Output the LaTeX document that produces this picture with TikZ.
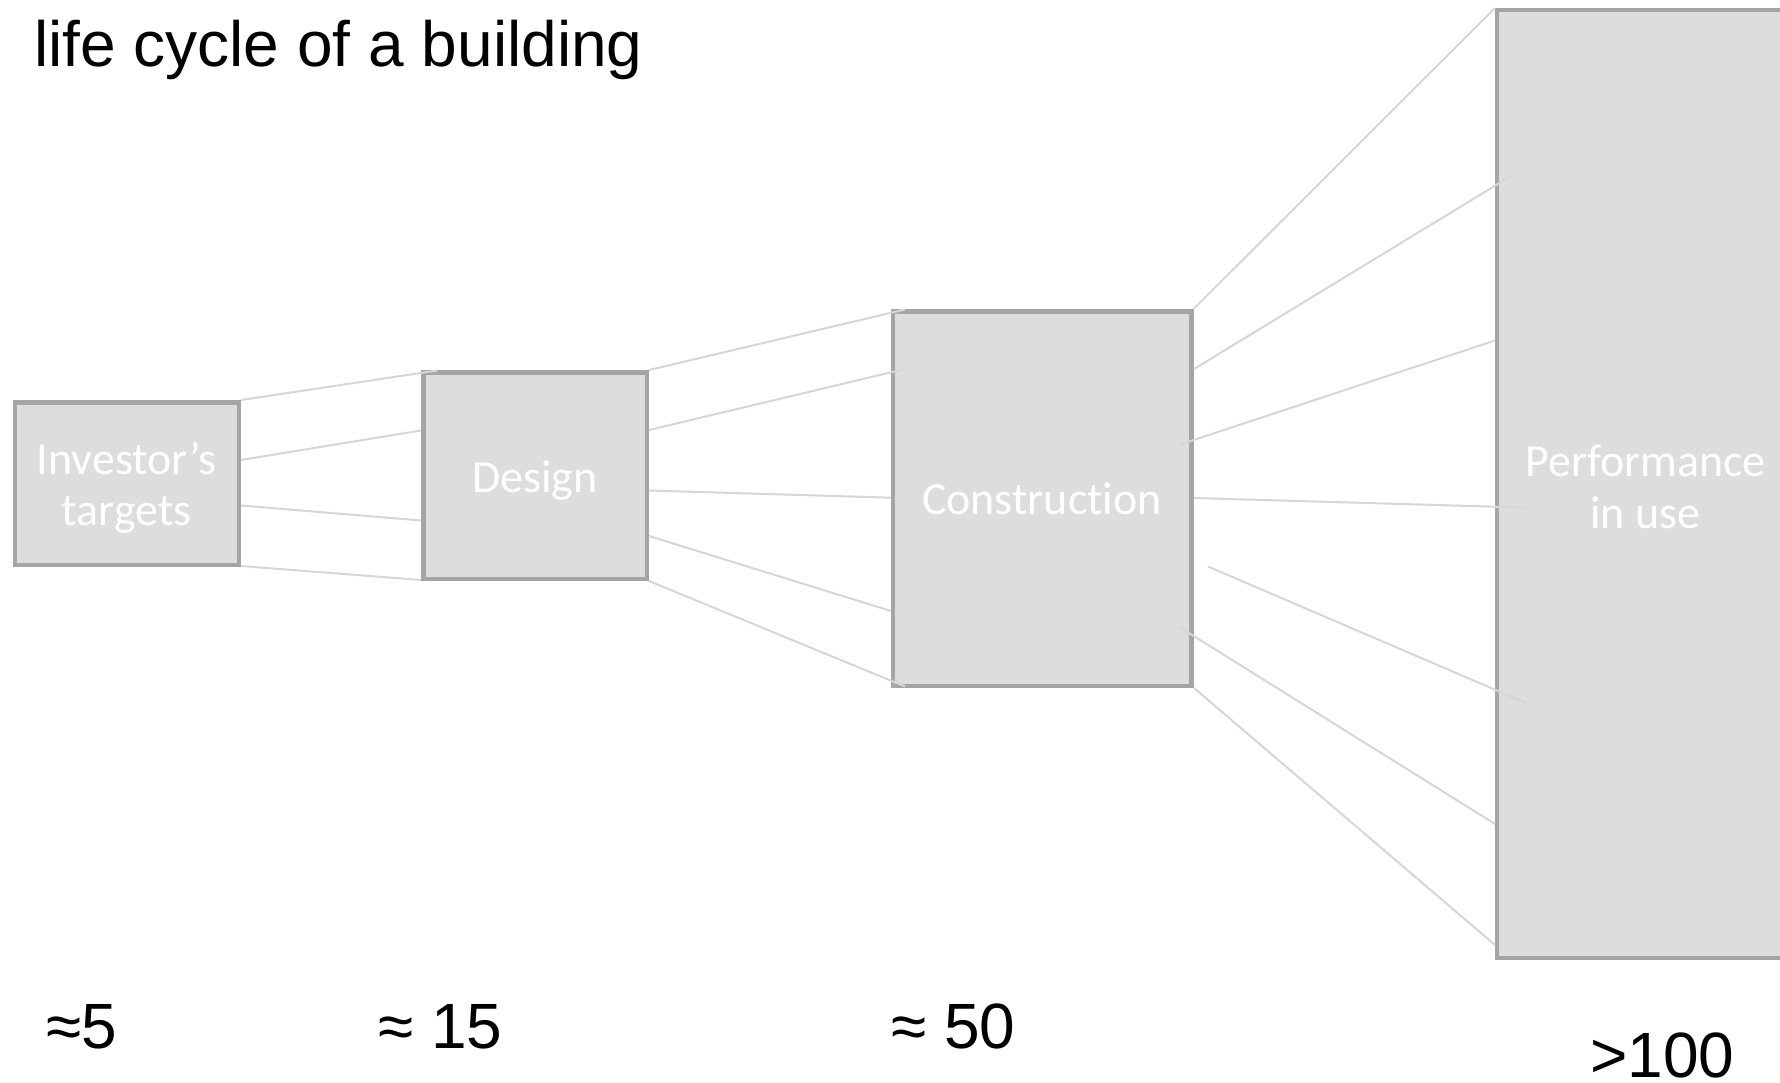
\documentclass[tikz,border=0pt]{standalone}
\usepackage{fontspec}
\setmainfont{Liberation Sans}
\newfontfamily\boxfont[Ligatures=NoCommon]{Carlito}
\definecolor{boxfill}{HTML}{DDDDDD}
\definecolor{boxline}{HTML}{A5A5A5}
\definecolor{conn}{HTML}{D6D6D6}
\tikzset{
  box/.style={draw=boxline, fill=boxfill, line width=4.5pt, rectangle, inner sep=0pt, outer sep=0pt},
  conline/.style={draw=conn, line width=2pt},
  boxtext/.style={text=white, inner sep=0pt, anchor=base, font=\boxfont\fontsize{46}{51}\selectfont},
  bigtext/.style={text=black, inner sep=0pt, anchor=base west, font=\fontsize{64}{77}\selectfont}
}
\begin{document}
\begin{tikzpicture}[x=1pt, y=-1pt]
\useasboundingbox (0,0) rectangle (1780,1083);
\fill[white] (0,0) rectangle (1780,1083);
\begin{scope}
\clip (0,0) rectangle (1780,1083);
% boxes
\node[box, minimum width=224, minimum height=162.5] (b1) at (126.75,483.5) {};
\node[box, minimum width=223.5, minimum height=206.5] (b2) at (535,475.5) {};
\node[box, minimum width=298.5, minimum height=374.5] (b3) at (1042.25,498.5) {};
\node[box, minimum width=335, minimum height=947.5] (b4) at (1664.5,484) {};
% connectors b1 -> b2
\coordinate (a1) at (241,400);   \coordinate (a2) at (437,370.5);
\coordinate (a3) at (241,460);   \coordinate (a4) at (421,430.5);
\coordinate (a5) at (241,505.5); \coordinate (a6) at (421,520.5);
\coordinate (a7) at (241,566);   \coordinate (a8) at (421,580);
\draw[conline] (a1) -- (a2);
\draw[conline] (a3) -- (a4);
\draw[conline] (a5) -- (a6);
\draw[conline] (a7) -- (a8);
% connectors b2 -> b3
\coordinate (c1) at (649,370);   \coordinate (c2) at (905,309.5);
\coordinate (c3) at (649,430);   \coordinate (c4) at (905,369);
\coordinate (c5) at (649,490.5); \coordinate (c6) at (891,497.7);
\coordinate (c7) at (649,536);   \coordinate (c8) at (891,611);
\coordinate (c9) at (649,581);   \coordinate (c10) at (905,686.5);
\draw[conline] (c1) -- (c2);
\draw[conline] (c3) -- (c4);
\draw[conline] (c5) -- (c6);
\draw[conline] (c7) -- (c8);
\draw[conline] (c9) -- (c10);
% connectors b3 -> b4
\coordinate (d1) at (1194,308.5); \coordinate (d2) at (1495,8);
\coordinate (d3) at (1194,369);   \coordinate (d4) at (1511,176);
\coordinate (d5) at (1180,444.5); \coordinate (d6) at (1495,340.5);
\coordinate (d7) at (1194,498);   \coordinate (d8) at (1526,507.6);
\coordinate (d9) at (1208,566.5); \coordinate (d10) at (1526,703);
\coordinate (d11) at (1180,627.5); \coordinate (d12) at (1495,824);
\coordinate (d13) at (1194,688);  \coordinate (d14) at (1495,945);
\draw[conline] (d1) -- (d2);
\draw[conline] (d3) -- (d4);
\draw[conline] (d5) -- (d6);
\draw[conline] (d7) -- (d8);
\draw[conline] (d9) -- (d10);
\draw[conline] (d11) -- (d12);
\draw[conline] (d13) -- (d14);
% box texts
\node[boxtext] (t1a) at (126.7,474.5) {Investor’s};
\node[boxtext] (t1b) at (126.7,525.6) {targets};
\node[boxtext] (t2) at (535,492) {Design};
\node[boxtext] (t3) at (1042,514) {Construction};
\node[boxtext] (t4a) at (1645.5,476.5) {Performance};
\node[boxtext] (t4b) at (1645.5,528) {in use};
% title and numbers
\node[bigtext] (title) at (34,67) {life cycle of a building};
\node[bigtext] (n1) at (46,1048) {≈5};
\node[bigtext] (n2) at (378,1048) {≈ 15};
\node[bigtext] (n3) at (891,1048) {≈ 50};
\node[bigtext] (n4) at (1590,1077) {>100};
\end{scope}
\end{tikzpicture}
\end{document}
